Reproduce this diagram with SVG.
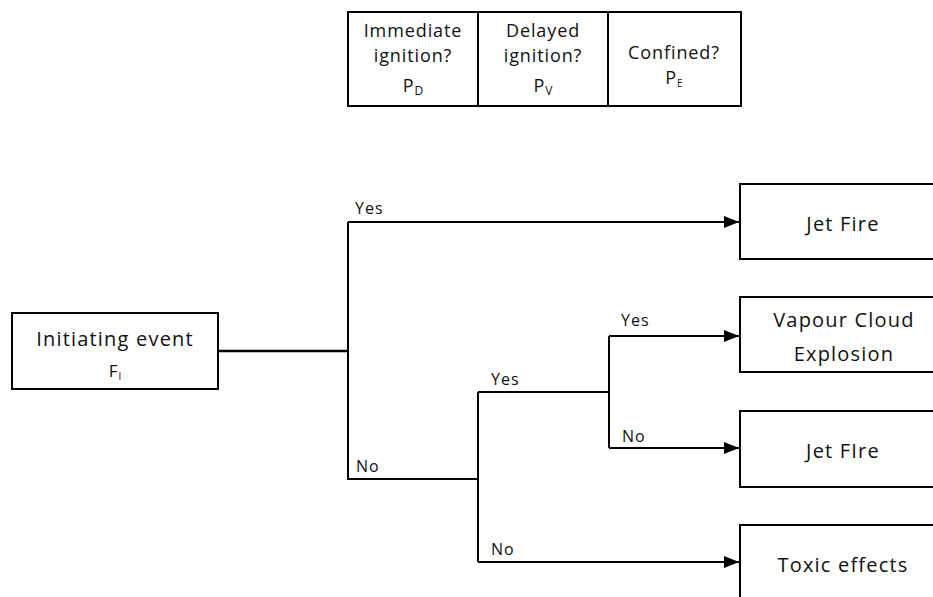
<svg xmlns="http://www.w3.org/2000/svg" width="933" height="597" viewBox="0 0 933 597">
<style>
.box{fill:#fff;stroke:#000;stroke-width:2}
.ln{fill:none;stroke:#000;stroke-width:2}
.t{font-family:"Open Sans","Liberation Sans",sans-serif;font-size:20px;letter-spacing:1.2px;fill:#111;text-anchor:middle}
.h{font-family:"Open Sans","Liberation Sans",sans-serif;font-size:18px;letter-spacing:0.9px;fill:#111;text-anchor:middle}
.l{font-family:"Open Sans","Liberation Sans",sans-serif;font-size:16px;letter-spacing:1px;fill:#111}
.s{font-size:12px;letter-spacing:0}
</style>
<defs>
<marker id="arr" markerUnits="userSpaceOnUse" markerWidth="16" markerHeight="12" refX="15" refY="6" orient="auto">
<path d="M0,0 L15,6 L0,12 z" fill="#000"/>
</marker>
</defs>
<rect width="933" height="597" fill="#fff"/>
<g id="header">
<rect class="box" x="348" y="12" width="393" height="94"/>
<line class="ln" x1="478" y1="12" x2="478" y2="106"/>
<line class="ln" x1="608" y1="12" x2="608" y2="106"/>
<text class="h" x="413" y="37">Immediate</text>
<text class="h" x="413" y="62">ignition?</text>
<text class="h" x="413" y="92">P<tspan class="s" dy="3">D</tspan></text>
<text class="h" x="543" y="37">Delayed</text>
<text class="h" x="543" y="62">ignition?</text>
<text class="h" x="543" y="92">P<tspan class="s" dy="3">V</tspan></text>
<text class="h" x="674" y="59">Confined?</text>
<text class="h" x="674" y="84">P<tspan class="s" dy="3" style="font-size:10px">E</tspan></text>
</g>
<g id="initiating">
<rect class="box" x="12" y="313" width="206" height="76"/>
<text class="t" x="115" y="346">Initiating event</text>
<text class="h" x="115" y="377" style="font-size:17px">F<tspan class="s" dy="3" style="font-size:10px">I</tspan></text>
</g>
<g id="jetfire1">
<rect class="box" x="740" y="184" width="220" height="75"/>
<text class="t" x="843" y="231">Jet Fire</text>
</g>
<g id="vce">
<rect class="box" x="740" y="297" width="220" height="75"/>
<text class="t" x="844" y="327">Vapour Cloud</text>
<text class="t" x="844" y="361">Explosion</text>
</g>
<g id="jetfire2">
<rect class="box" x="740" y="411" width="220" height="76"/>
<text class="t" x="843" y="458">Jet FIre</text>
</g>
<g id="toxic">
<rect class="box" x="740" y="525" width="220" height="90"/>
<text class="t" x="843" y="572">Toxic effects</text>
</g>
<g id="connectors">
<path class="ln" d="M218,351 H348" style="stroke-width:2.5"/>
<path class="ln" d="M348,222 V479 H478"/>
<path class="ln" d="M348,222 H739" marker-end="url(#arr)"/>
<path class="ln" d="M478,392 V562"/>
<path class="ln" d="M478,392 H609"/>
<path class="ln" d="M609,336 V448"/>
<path class="ln" d="M609,336 H739" marker-end="url(#arr)"/>
<path class="ln" d="M609,448 H739" marker-end="url(#arr)"/>
<path class="ln" d="M478,562 H739" marker-end="url(#arr)"/>
</g>
<g id="labels">
<text class="l" x="355" y="214">Yes</text>
<text class="l" x="356" y="472">No</text>
<text class="l" x="491" y="385">Yes</text>
<text class="l" x="621" y="326">Yes</text>
<text class="l" x="622" y="442">No</text>
<text class="l" x="491" y="555">No</text>
</g>
</svg>
